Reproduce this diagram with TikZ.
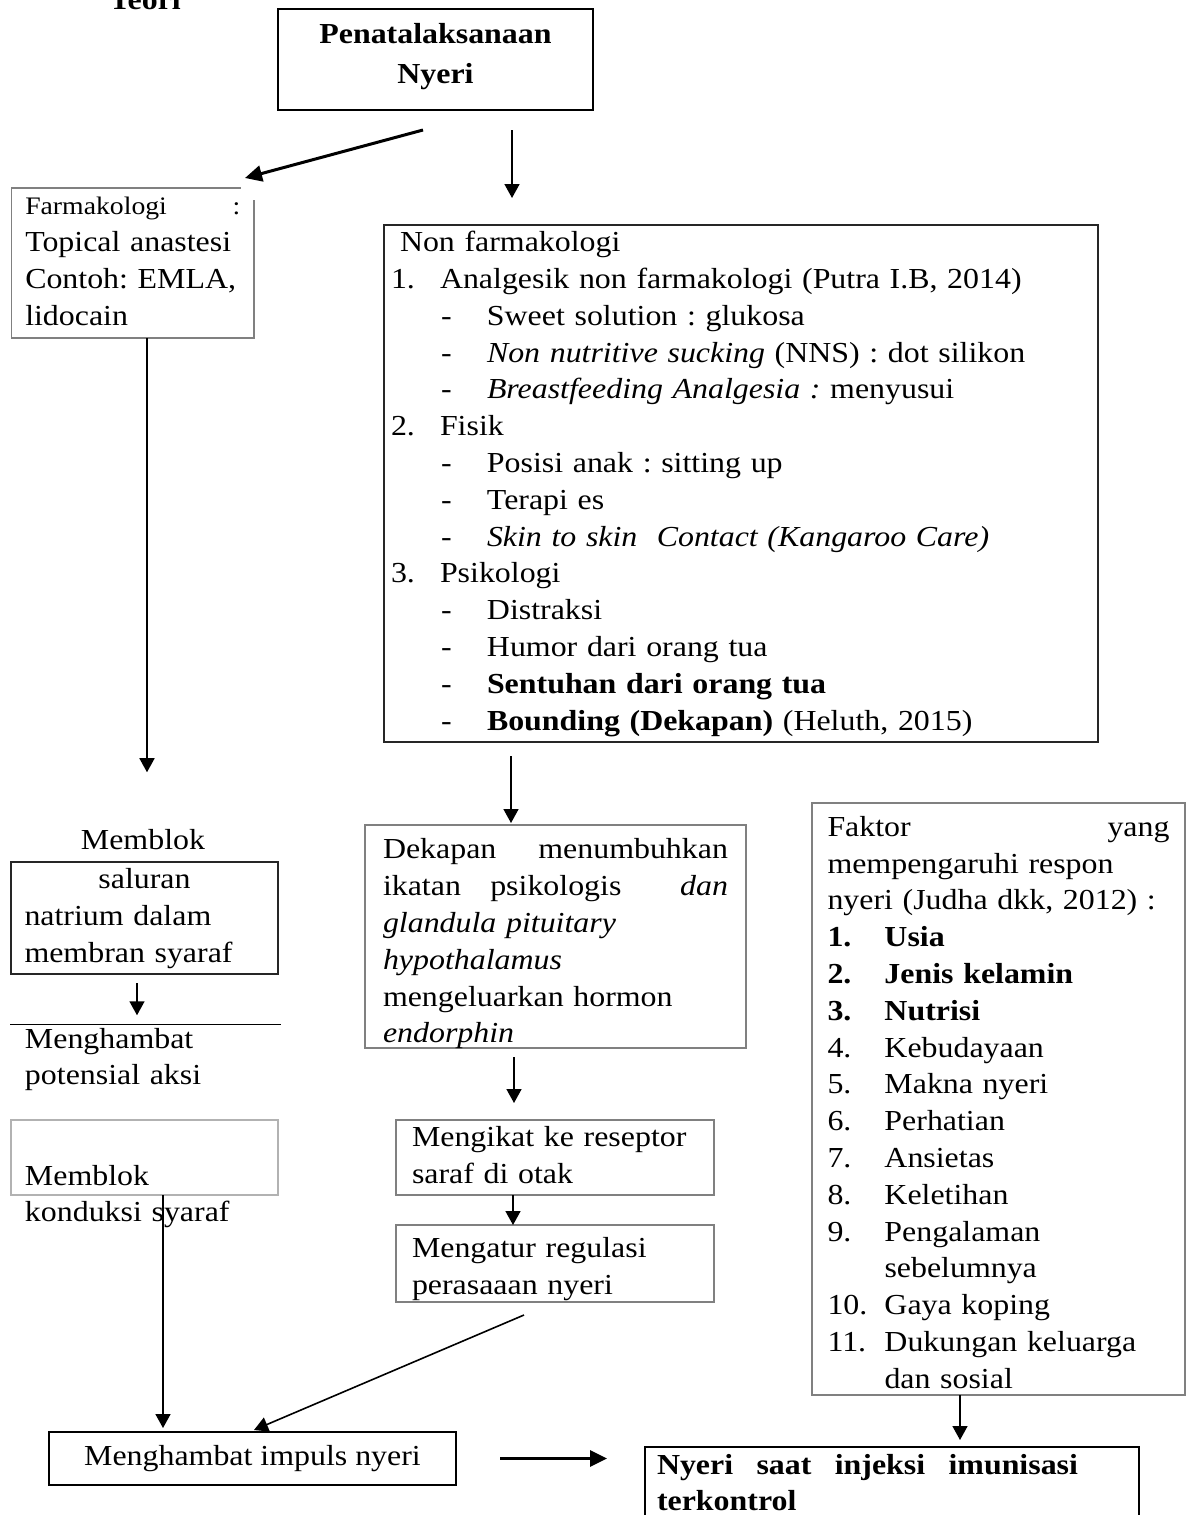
\documentclass[tikz,border=0pt]{standalone}
\usepackage{fontspec}
\setmainfont{Liberation Serif}[FakeStretch=1.10]
\usetikzlibrary{arrows.meta}
\frenchspacing

\newcommand{\nitem}[2]{\makebox[24.5pt][l]{#1}#2}
\newcommand{\nsub}[1]{\hspace*{25pt}\makebox[23pt][l]{-}#1}
\newcommand{\fitem}[2]{\makebox[28.5pt][l]{#1}#2}

\begin{document}
\begin{tikzpicture}[x=0.5pt, y=-0.5pt,
  every node/.style = {inner sep=0pt, outer sep=0pt,
    font=\fontsize{14.5pt}{18.4pt}\selectfont,
    execute at begin node=\strut, execute at end node=\strut},
  box/.style = {draw=black!50, line width=0.6pt, anchor=north west, align=left},
  darkbox/.style = {box, draw=black!85},
  boldbox/.style = {box, draw=black, line width=1.2pt},
  arr/.style = {line width=0.8pt, -{Triangle[length=7pt,width=7.5pt]}},
  thickarr/.style = {line width=1.5pt, -{Triangle[length=8.5pt,width=8pt]}}]

\useasboundingbox (0,0) rectangle (1191,1515);

% top
\node[font=\fontsize{14.5pt}{18.4pt}\selectfont\bfseries, anchor=base] (teori) at (145,10) {Teori};
\node[boldbox, minimum width=157.5pt, minimum height=50.5pt, align=center,
  font=\fontsize{14.5pt}{20pt}\selectfont\bfseries] (top) at (278,9) {Penatalaksanaan\\Nyeri};

% farmakologi
\node[minimum width=121.25pt, minimum height=75pt, text width=107.5pt, anchor=north west,
  align=left, font=\fontsize{14.5pt}{18.5pt}\selectfont] (farm) at (11.5,188)
  {{\fontsize{12.6pt}{18.5pt}\selectfont Farmakologi\hfill :\hspace*{4pt}}\\Topical anastesi\\Contoh: EMLA,\\lidocain};
\draw[draw=black!50, line width=0.6pt] ([yshift=-6pt]farm.north east) -- (farm.south east)
  -- (farm.south west) -- (farm.north west) -- ([xshift=-6.5pt]farm.north east);

\node[anchor=base] (memblok) at (143,849) {Memblok};
\node[darkbox, minimum width=133.5pt, minimum height=56pt, text width=120pt] (sal) at (11,862)
  {\hfill saluran\hfill\null\\natrium dalam\\membran syaraf};
\node[anchor=base west, text width=120pt, align=left] (pot) at (25,1048) {Menghambat\\potensial aksi};
\draw[line width=0.7pt] ([xshift=-7.5pt,yshift=-1pt]pot.north west) -- ([xshift=8pt,yshift=-1pt]pot.north east);
\node[box, draw=black!30, minimum width=133.5pt, minimum height=37.5pt] (kond) at (11,1120) {};
\node[anchor=base west, text width=120pt, align=left] (kondtxt) at (25,1185) {Memblok\\konduksi syaraf};

% non farmakologi
\node[darkbox, minimum width=357pt, minimum height=258.5pt, text width=350pt] (non) at (384,225)
  {\hspace*{4.5pt}Non farmakologi\\
   \nitem{1.}{Analgesik non farmakologi (Putra I.B, 2014)}\\
   \nsub{Sweet solution : glukosa}\\
   \nsub{\textit{Non nutritive sucking} (NNS) : dot silikon}\\
   \nsub{\textit{Breastfeeding Analgesia :} menyusui}\\
   \nitem{2.}{Fisik}\\
   \nsub{Posisi anak : sitting up}\\
   \nsub{Terapi es}\\
   \nsub{\textit{Skin to skin\ \ Contact (Kangaroo Care)}}\\
   \nitem{3.}{Psikologi}\\
   \nsub{Distraksi}\\
   \nsub{Humor dari orang tua}\\
   \nsub{\textbf{Sentuhan dari orang tua}}\\
   \nsub{\textbf{Bounding (Dekapan)} (Heluth, 2015)}};

\node[box, minimum width=190.5pt, minimum height=111.5pt, text width=172.5pt,
  execute at end node={\par\kern-7pt}] (dek) at (365,825)
  {Dekapan\hfill menumbuhkan\\
   ikatan\hfill psikologis\hfill\hfill\textit{dan}\\
   \textit{glandula pituitary}\\
   \textit{hypothalamus}\\
   mengeluarkan hormon\\
   \textit{endorphin}};
\node[box, minimum width=159pt, minimum height=37.5pt, text width=143pt] (ikat) at (396,1120)
  {Mengikat ke reseptor\\saraf di otak};
\node[box, minimum width=159pt, minimum height=38.5pt, text width=143pt,
  execute at end node={\par\kern-5pt}] (atur) at (396,1225)
  {Mengatur regulasi\\perasaaan nyeri};

% faktor
\node[box, minimum width=186.5pt, minimum height=296pt, text width=171pt,
  execute at end node={\par\kern-6pt}] (faktor) at (812,803)
  {Faktor\hfill yang\\
   mempengaruhi respon\\
   nyeri (Judha dkk, 2012) :\\
   \textbf{\fitem{1.}{Usia}}\\
   \textbf{\fitem{2.}{Jenis kelamin}}\\
   \textbf{\fitem{3.}{Nutrisi}}\\
   \fitem{4.}{Kebudayaan}\\
   \fitem{5.}{Makna nyeri}\\
   \fitem{6.}{Perhatian}\\
   \fitem{7.}{Ansietas}\\
   \fitem{8.}{Keletihan}\\
   \fitem{9.}{Pengalaman}\\
   \fitem{}{sebelumnya}\\
   \fitem{10.}{Gaya koping}\\
   \fitem{11.}{Dukungan keluarga}\\
   \fitem{}{dan sosial}};

% bottom
\node[boldbox, minimum width=203.5pt, minimum height=26.5pt, align=center] (impuls) at (49,1432)
  {Menghambat impuls nyeri};
\node[boldbox, minimum width=247pt, text width=235pt, inner ysep=1pt,
  font=\fontsize{14.5pt}{18pt}\selectfont\bfseries] (nyeri) at (645,1447)
  {\makebox[210.5pt]{Nyeri\hfill saat\hfill injeksi\hfill imunisasi}\\terkontrol};

% arrows
\draw[thickarr] ([xshift=-6.25pt,yshift=-10pt]top.south) -- ([xshift=-4.5pt,yshift=5pt]farm.north east);
\draw[arr, shorten <=10pt, shorten >=13.5pt] ([xshift=38.25pt]top.south) -- ([xshift=38.25pt]top.south |- non.north);
\draw[arr, shorten >=25.5pt] ([xshift=7.125pt]farm.south) -- ([xshift=7.125pt]farm.south |- memblok.north);
\draw[arr, shorten <=4.5pt, shorten >=3.5pt] ([xshift=-3.75pt]sal.south) -- ([xshift=-3.75pt]sal.south |- pot.north);
\draw[arr, shorten >=2pt] ([xshift=9.25pt]kond.south) -- ([xshift=9.25pt]kond.south |- impuls.north);
\draw[arr, shorten <=7pt, shorten >=1pt] ([xshift=-115pt]non.south) -- ([xshift=-115pt]non.south |- dek.north);
\draw[arr, shorten <=4.5pt, shorten >=8.5pt] ([xshift=-20.75pt]dek.south) -- ([xshift=-20.75pt]dek.south |- ikat.north);
\draw[arr] ([xshift=-21pt]ikat.south) -- ([xshift=-21pt]ikat.south |- atur.north);
\draw[arr] ([xshift=-15.5pt,yshift=-6.5pt]atur.south) -- ([xshift=0.75pt,yshift=1pt]impuls.north);
\draw[thickarr, shorten <=22pt, shorten >=19pt] (impuls.east) -- (impuls.east -| nyeri.west);
\draw[arr, shorten >=3.5pt] ([xshift=-19.25pt]faktor.south) -- ([xshift=-19.25pt]faktor.south |- nyeri.north);
\end{tikzpicture}
\end{document}
